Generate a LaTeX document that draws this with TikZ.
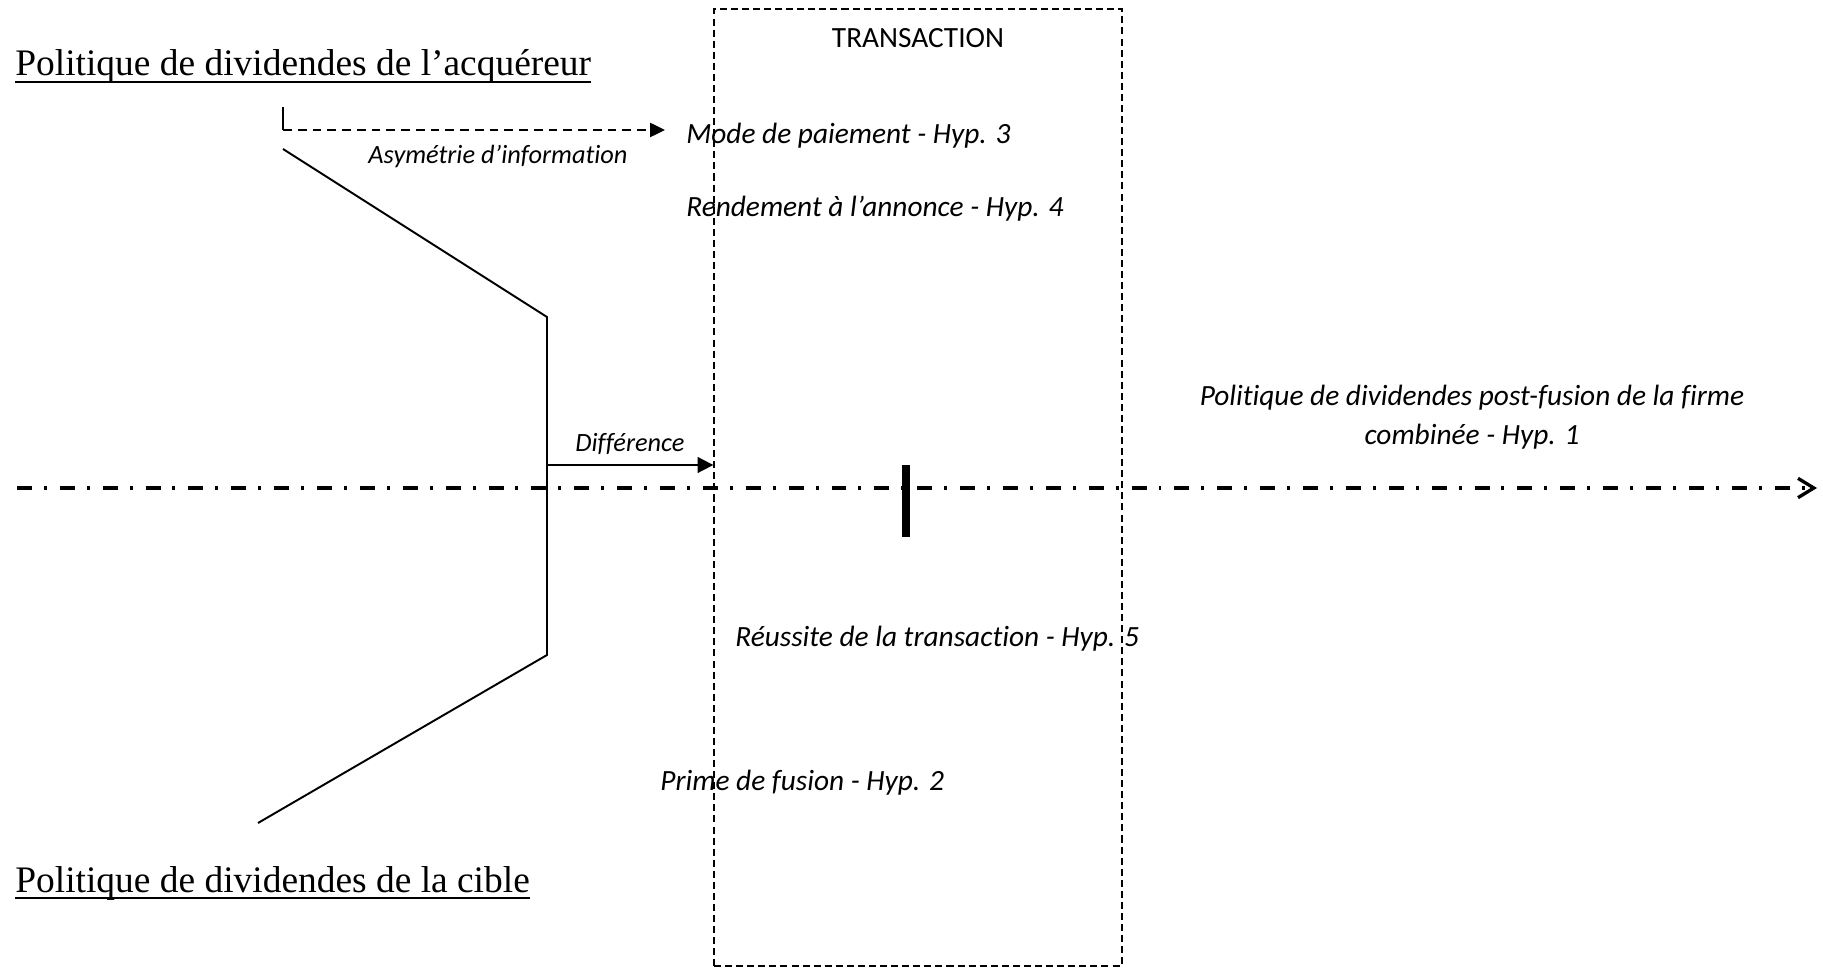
\documentclass[tikz,border=0pt]{standalone}
\usepackage{fontspec}
\setmainfont{Liberation Serif}
\newfontfamily\calibri[Ligatures=NoCommon]{Carlito}
\usetikzlibrary{arrows.meta,positioning}

\begin{document}
\begin{tikzpicture}[x=0.02cm,y=-0.02cm,
  ttl/.style={anchor=base west,inner sep=0pt,font=\fontsize{21.3}{25}\selectfont},
  hyp/.style={anchor=west,inner sep=0pt,font=\calibri\itshape\fontsize{16.7}{22.5}\selectfont},
  lbl/.style={inner sep=0pt,font=\calibri\itshape\fontsize{15}{18}\selectfont},
  trbox/.style={draw,line width=0.8pt,dash pattern=on 4pt off 2.3pt},
  brd/.style={line width=1.1pt},
  info/.style={line width=1.2pt,dash pattern=on 5pt off 3.4pt,-{Triangle[length=8.5pt,width=8pt]}},
  diff/.style={line width=1.1pt,-{Triangle[length=9pt,width=9pt]}},
  tline/.style={line width=1.9pt,dash pattern=on 8.5pt off 6.8pt on 1.7pt off 7.4pt,-{Straight Barb[length=9pt,width=11pt]}}]

  \useasboundingbox (0,0) rectangle (1823,969);

  % titres
  \node[ttl] (acq) at (15,76) {Politique de dividendes de l’acquéreur};
  \node[ttl] (cib) at (15,892) {Politique de dividendes de la cible};
  \draw[brd] ([yshift=-0.12cm]acq.base west) -- ([yshift=-0.12cm]acq.base east);
  \draw[brd] ([yshift=-0.12cm]cib.base west) -- ([yshift=-0.12cm]cib.base east);

  % transaction
  \node[trbox,minimum width=8.16cm,minimum height=19.14cm] (tr) at (918,487.5) {};
  \node[inner sep=0pt,font=\calibri\fontsize{16.7}{20}\selectfont] (trt) at (918,38) {TRANSACTION};

  \node[hyp] (mode) at (686,136) {Mode de paiement - Hyp. 3};
  \node[hyp] (rend) at (686,209) {Rendement à l’annonce - Hyp. 4};
  \node[hyp] (reus) at (735,639) {Réussite de la transaction - Hyp. 5};
  \node[hyp] (prime) at (660,783) {Prime de fusion - Hyp. 2};
  \node[lbl] (asym) at (498,156) {Asymétrie d’information};
  \node[lbl] (dtxt) at (630,444) {Différence};
  \node[hyp,anchor=center,align=center] (post) at (1472,417) {Politique de dividendes post-fusion de la firme\\combinée - Hyp. 1};

  % lignes
  \coordinate (l0) at (283,107);
  \coordinate (lc) at (283,130);
  \coordinate (l1) at (665,130);
  \coordinate (p1) at (283,149);
  \coordinate (p2) at (547,317);
  \coordinate (p3) at (547,655);
  \coordinate (p4) at (258,823);
  \coordinate (d0) at (547,465);
  \coordinate (ax0) at (17,488);
  \coordinate (ax1) at (1817,488);

  \draw[brd] (p1) -- (p2) -- (p3) -- (p4);
  \draw[brd] (l0) -- (lc);
  \draw[info] (lc) -- (l1);
  \draw[diff] (d0) -- (d0 -| tr.west);
  \draw[tline] (ax0) -- (ax1);
  \draw[line width=4pt] (906,465) -- (906,537);
\end{tikzpicture}
\end{document}
